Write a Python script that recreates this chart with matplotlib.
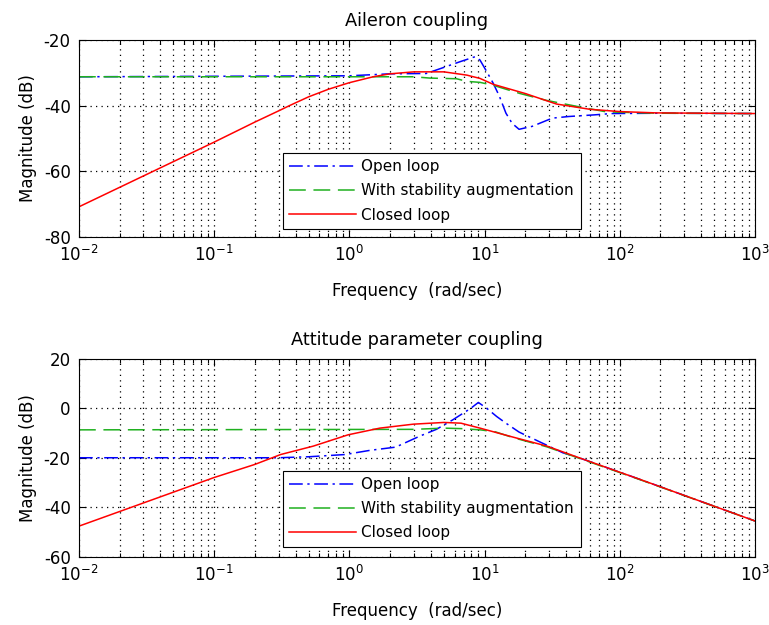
import numpy as np
import matplotlib
matplotlib.use("Agg")
import matplotlib.pyplot as plt
from matplotlib.ticker import LogLocator, FixedLocator

plt.rcParams['font.family'] = ['DejaVu Sans']
plt.rcParams['mathtext.default'] = 'regular'
plt.rcParams['axes.unicode_minus'] = False

# Aileron coupling (dB)
ail_open_w = [0.01, 1.0, 2.0, 3.7, 4.8, 6.6, 8.5, 9.25, 10.4, 11.6, 12.9, 14.4,
              16, 18, 22.5, 31.7, 42, 65, 87, 200, 1000]
ail_open_db = [-31.2, -30.9, -30.3, -30.2, -28.6, -26.6, -25.1, -26.1, -29.7, -33.2,
               -37.2, -42.3, -45.4, -47.2, -46.3, -43.8, -43.3, -42.8, -42.4, -42.3, -42.4]

ail_aug_w = [0.01, 1.0, 3.0, 3.94, 6.2, 7.4, 9.25, 11.6, 18.3, 28.8, 50.8, 80, 190, 1000]
ail_aug_db = [-31.2, -31.2, -31.2, -31.6, -31.8, -32.6, -32.9, -33.8, -36.3, -38.4,
              -40.4, -41.9, -42.3, -42.4]

ail_cl_w = [0.01, 0.1, 0.2, 0.31, 0.36, 0.5, 0.7, 1.0, 1.5, 2.0, 3.0, 5.0, 7.4, 9.25,
            11.6, 20, 34, 60, 100, 186, 1000]
ail_cl_db = [-70.8, -51.1, -45.0, -41.3, -40.0, -37.3, -35.0, -33.0, -31.2, -30.3,
             -29.7, -29.7, -30.7, -31.7, -33.5, -36.3, -39.5, -41.1, -41.8, -42.2, -42.4]

# Attitude parameter coupling (dB)
att_open_w = [0.01, 0.3, 0.5, 0.93, 1.42, 2.2, 3.3, 4.4, 5.8, 7.9, 9.0, 10.4, 12.3,
              14.4, 18, 25, 38, 50, 140, 1000]
att_open_db = [-20.0, -20.0, -19.6, -18.7, -17.0, -15.7, -11.3, -8.5, -4.7, 0.0, 2.4,
               0.0, -3.3, -6.0, -9.6, -13.3, -18.0, -20.0, -28.7, -45.6]

att_aug_w = [0.01, 3.0, 5.0, 6.7, 9.3, 12, 16.4, 29, 50, 140, 1000]
att_aug_db = [-8.7, -8.5, -8.0, -8.2, -8.7, -9.5, -11.9, -15.6, -20.2, -28.8, -45.6]

att_cl_w = [0.01, 0.1, 0.2, 0.31, 0.54, 0.98, 1.68, 2.97, 5.0, 6.7, 9.25, 16.4, 29,
            50, 140, 1000]
att_cl_db = [-47.7, -28.0, -22.7, -18.7, -15.3, -10.7, -8.0, -6.4, -5.7, -6.0, -8.0,
             -11.7, -15.3, -20.0, -28.7, -45.6]

labels = ['Open loop', 'With stability augmentation', 'Closed loop']

fig = plt.figure(figsize=(7.69, 6.25), dpi=100)
ax1 = fig.add_axes([0.1027, 0.6208, 0.879, 0.3152])
ax2 = fig.add_axes([0.1027, 0.1096, 0.879, 0.316])

dot = (0, (1, 3.4))


def panel(ax, w_open, db_open, w_aug, db_aug, w_cl, db_cl, ylim, yticks, title, leg_top):
    ax.semilogx(w_open, db_open, color='#0000ff', lw=1.1, dashes=(9, 3, 1.5, 3),
                label=labels[0])
    ax.semilogx(w_aug, db_aug, color='#1fb01f', lw=1.1, dashes=(11, 5),
                label=labels[1])
    ax.semilogx(w_cl, db_cl, color='#ff0000', lw=1.1, label=labels[2])
    ax.set_xlim(1e-2, 1e3)
    ax.set_ylim(*ylim)
    ax.yaxis.set_major_locator(FixedLocator(yticks))
    ax.xaxis.set_major_locator(LogLocator(base=10, numticks=10))
    ax.xaxis.set_minor_locator(LogLocator(base=10, subs=np.arange(2, 10), numticks=100))
    ax.grid(True, which='both', axis='x', color='k', lw=0.9, linestyle=dot)
    ax.grid(True, which='major', axis='y', color='k', lw=0.9, linestyle=dot)
    ax.tick_params(which='both', direction='in', top=True, right=True,
                   labelsize=12, width=0.8, colors='k')
    ax.tick_params(which='major', length=5, pad=6)
    ax.tick_params(which='minor', length=3)
    for s in ax.spines.values():
        s.set_linewidth(0.8)
    ax.set_title(title, fontsize=12.8, pad=10)
    ax.set_xlabel('Frequency  (rad/sec)', fontsize=12, labelpad=12)
    ax.set_ylabel('Magnitude (dB)', fontsize=12, labelpad=5)
    leg = ax.legend(loc='upper left', bbox_to_anchor=(0.302, leg_top, 0.44, 0.0),
                    mode='expand', fontsize=11, fancybox=False, framealpha=1,
                    edgecolor='k', handlelength=4.4, handletextpad=0.3,
                    labelspacing=0.6, borderpad=0.4, borderaxespad=0)
    leg.get_frame().set_linewidth(0.8)


panel(ax1, ail_open_w, ail_open_db, ail_aug_w, ail_aug_db, ail_cl_w, ail_cl_db,
      (-80, -20), [-80, -60, -40, -20], 'Aileron coupling', 0.426)
panel(ax2, att_open_w, att_open_db, att_aug_w, att_aug_db, att_cl_w, att_cl_db,
      (-60, 20), [-60, -40, -20, 0, 20], 'Attitude parameter coupling', 0.433)

fig.savefig('out.png', dpi=100)
